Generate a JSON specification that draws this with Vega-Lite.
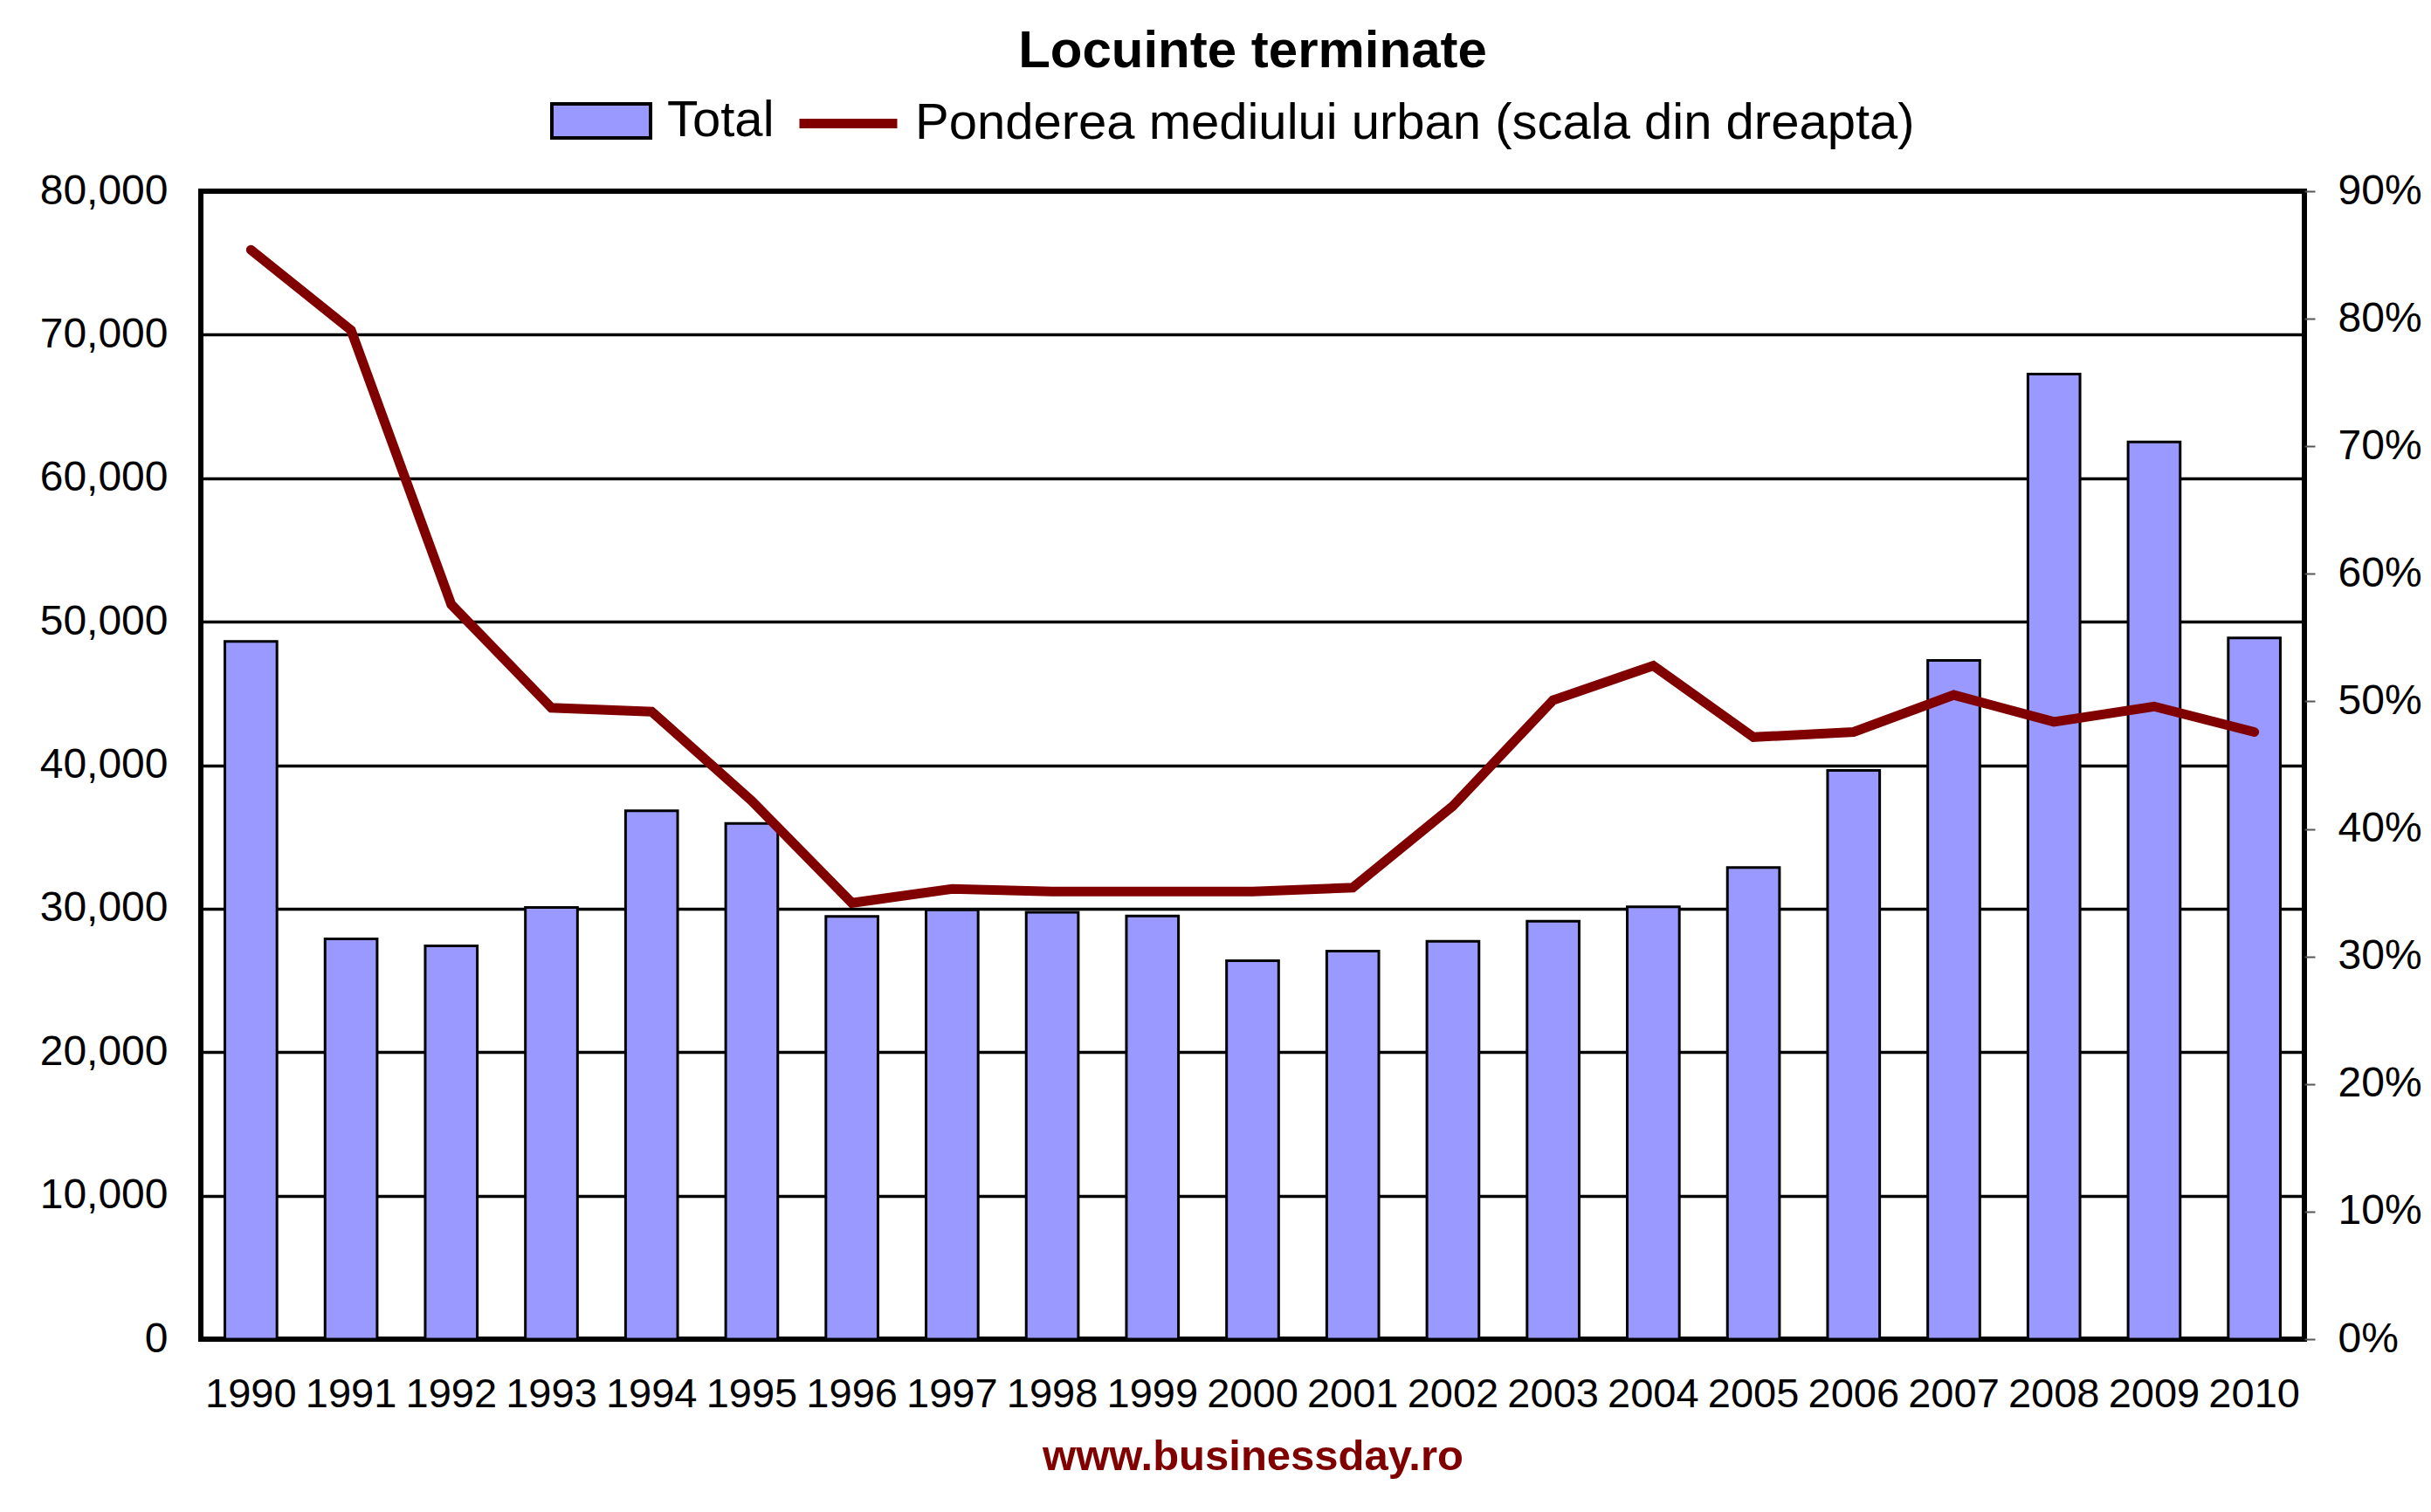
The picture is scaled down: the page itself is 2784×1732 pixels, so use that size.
{
  "$schema": "https://vega.github.io/schema/vega-lite/v6.json",
  "autosize": {"type": "none"},
  "width": 2409,
  "height": 1315,
  "padding": {"left": 230, "top": 219, "right": 145, "bottom": 198},
  "background": "white",
  "title": {
    "text": "Locuinte terminate",
    "font": "Liberation Sans",
    "fontSize": 60,
    "fontWeight": "bold",
    "color": "black",
    "anchor": "middle",
    "frame": "group",
    "offset": -10
  },
  "data": {
    "values": [
      {"an": "1990", "total": 48622, "urban": 0.854},
      {"an": "1991", "total": 27900, "urban": 0.791},
      {"an": "1992", "total": 27414, "urban": 0.576},
      {"an": "1993", "total": 30088, "urban": 0.495},
      {"an": "1994", "total": 36822, "urban": 0.492},
      {"an": "1995", "total": 35943, "urban": 0.422},
      {"an": "1996", "total": 29460, "urban": 0.342},
      {"an": "1997", "total": 29912, "urban": 0.353},
      {"an": "1998", "total": 29745, "urban": 0.351},
      {"an": "1999", "total": 29493, "urban": 0.351},
      {"an": "2000", "total": 26376, "urban": 0.351},
      {"an": "2001", "total": 27041, "urban": 0.354},
      {"an": "2002", "total": 27722, "urban": 0.418},
      {"an": "2003", "total": 29125, "urban": 0.501},
      {"an": "2004", "total": 30127, "urban": 0.528},
      {"an": "2005", "total": 32868, "urban": 0.472},
      {"an": "2006", "total": 39638, "urban": 0.476},
      {"an": "2007", "total": 47299, "urban": 0.505},
      {"an": "2008", "total": 67255, "urban": 0.484},
      {"an": "2009", "total": 62520, "urban": 0.496},
      {"an": "2010", "total": 48862, "urban": 0.476}
    ]
  },
  "encoding": {
    "x": {
      "field": "an",
      "type": "ordinal",
      "scale": {"paddingInner": 0.48, "paddingOuter": 0.24},
      "axis": {
        "title": "www.businessday.ro",
        "titleFont": "Liberation Sans",
        "titleFontSize": 49,
        "titleFontWeight": "bold",
        "titleColor": "#800000",
        "titlePadding": 24,
        "labelAngle": 0,
        "labelFont": "Liberation Sans",
        "labelFontSize": 47,
        "labelColor": "black",
        "labelPadding": 40,
        "ticks": false,
        "tickSize": 0,
        "domain": false
      }
    }
  },
  "layer": [
    {
      "mark": {"type": "bar", "stroke": "black", "strokeWidth": 3},
      "encoding": {
        "y": {
          "field": "total",
          "type": "quantitative",
          "scale": {"domain": [0, 80000], "nice": false},
          "axis": {
            "title": null,
            "values": [0, 10000, 20000, 30000, 40000, 50000, 60000, 70000, 80000],
            "format": ",.0f",
            "labelFont": "Liberation Sans",
            "labelFontSize": 48,
            "labelColor": "black",
            "labelPadding": 38,
            "ticks": false,
            "tickSize": 0,
            "domain": false,
            "grid": true,
            "gridColor": "black",
            "gridWidth": 3.5,
            "gridOpacity": 1
          }
        },
        "fill": {
          "datum": "Total",
          "scale": {"domain": ["Total"], "range": ["#9999FF"]},
          "legend": {
            "title": null,
            "orient": "none",
            "direction": "horizontal",
            "legendX": 400,
            "legendY": -139,
            "labelFont": "Liberation Sans",
            "labelFontSize": 58,
            "labelColor": "black",
            "labelLimit": 2000,
            "labelOffset": 17,
            "symbolSize": 12769,
            "symbolType": "M-1,-0.345H1V0.345H-1Z",
            "symbolFillColor": "#9999FF",
            "symbolStrokeColor": "black",
            "symbolStrokeWidth": 4,
            "symbolOpacity": 1
          }
        }
      }
    },
    {
      "mark": {"type": "line", "strokeWidth": 11, "strokeCap": "round", "strokeJoin": "miter"},
      "encoding": {
        "y": {
          "field": "urban",
          "type": "quantitative",
          "scale": {"domain": [0, 0.9], "nice": false},
          "axis": {
            "title": null,
            "orient": "right",
            "values": [0, 0.1, 0.2, 0.3, 0.4, 0.5, 0.6, 0.7, 0.8, 0.9],
            "format": ".0%",
            "labelFont": "Liberation Sans",
            "labelFontSize": 48,
            "labelColor": "black",
            "labelPadding": 26,
            "ticks": true,
            "tickSize": 12,
            "tickColor": "#555555",
            "tickWidth": 2,
            "domain": false,
            "grid": false
          }
        },
        "stroke": {
          "datum": "Ponderea mediului urban (scala din dreapta)",
          "scale": {"domain": ["Ponderea mediului urban (scala din dreapta)"], "range": ["#800000"]},
          "legend": {
            "title": null,
            "orient": "none",
            "direction": "horizontal",
            "legendX": 680,
            "legendY": -139,
            "labelFont": "Liberation Sans",
            "labelFontSize": 58,
            "labelColor": "black",
            "labelLimit": 2000,
            "labelOffset": 15,
            "symbolSize": 12544,
            "symbolType": "stroke",
            "symbolStrokeColor": "#800000",
            "symbolStrokeWidth": 11,
            "symbolOpacity": 1
          }
        }
      }
    }
  ],
  "resolve": {"scale": {"y": "independent"}},
  "config": {
    "font": "Liberation Sans",
    "view": {"stroke": "black", "strokeWidth": 6}
  }
}
